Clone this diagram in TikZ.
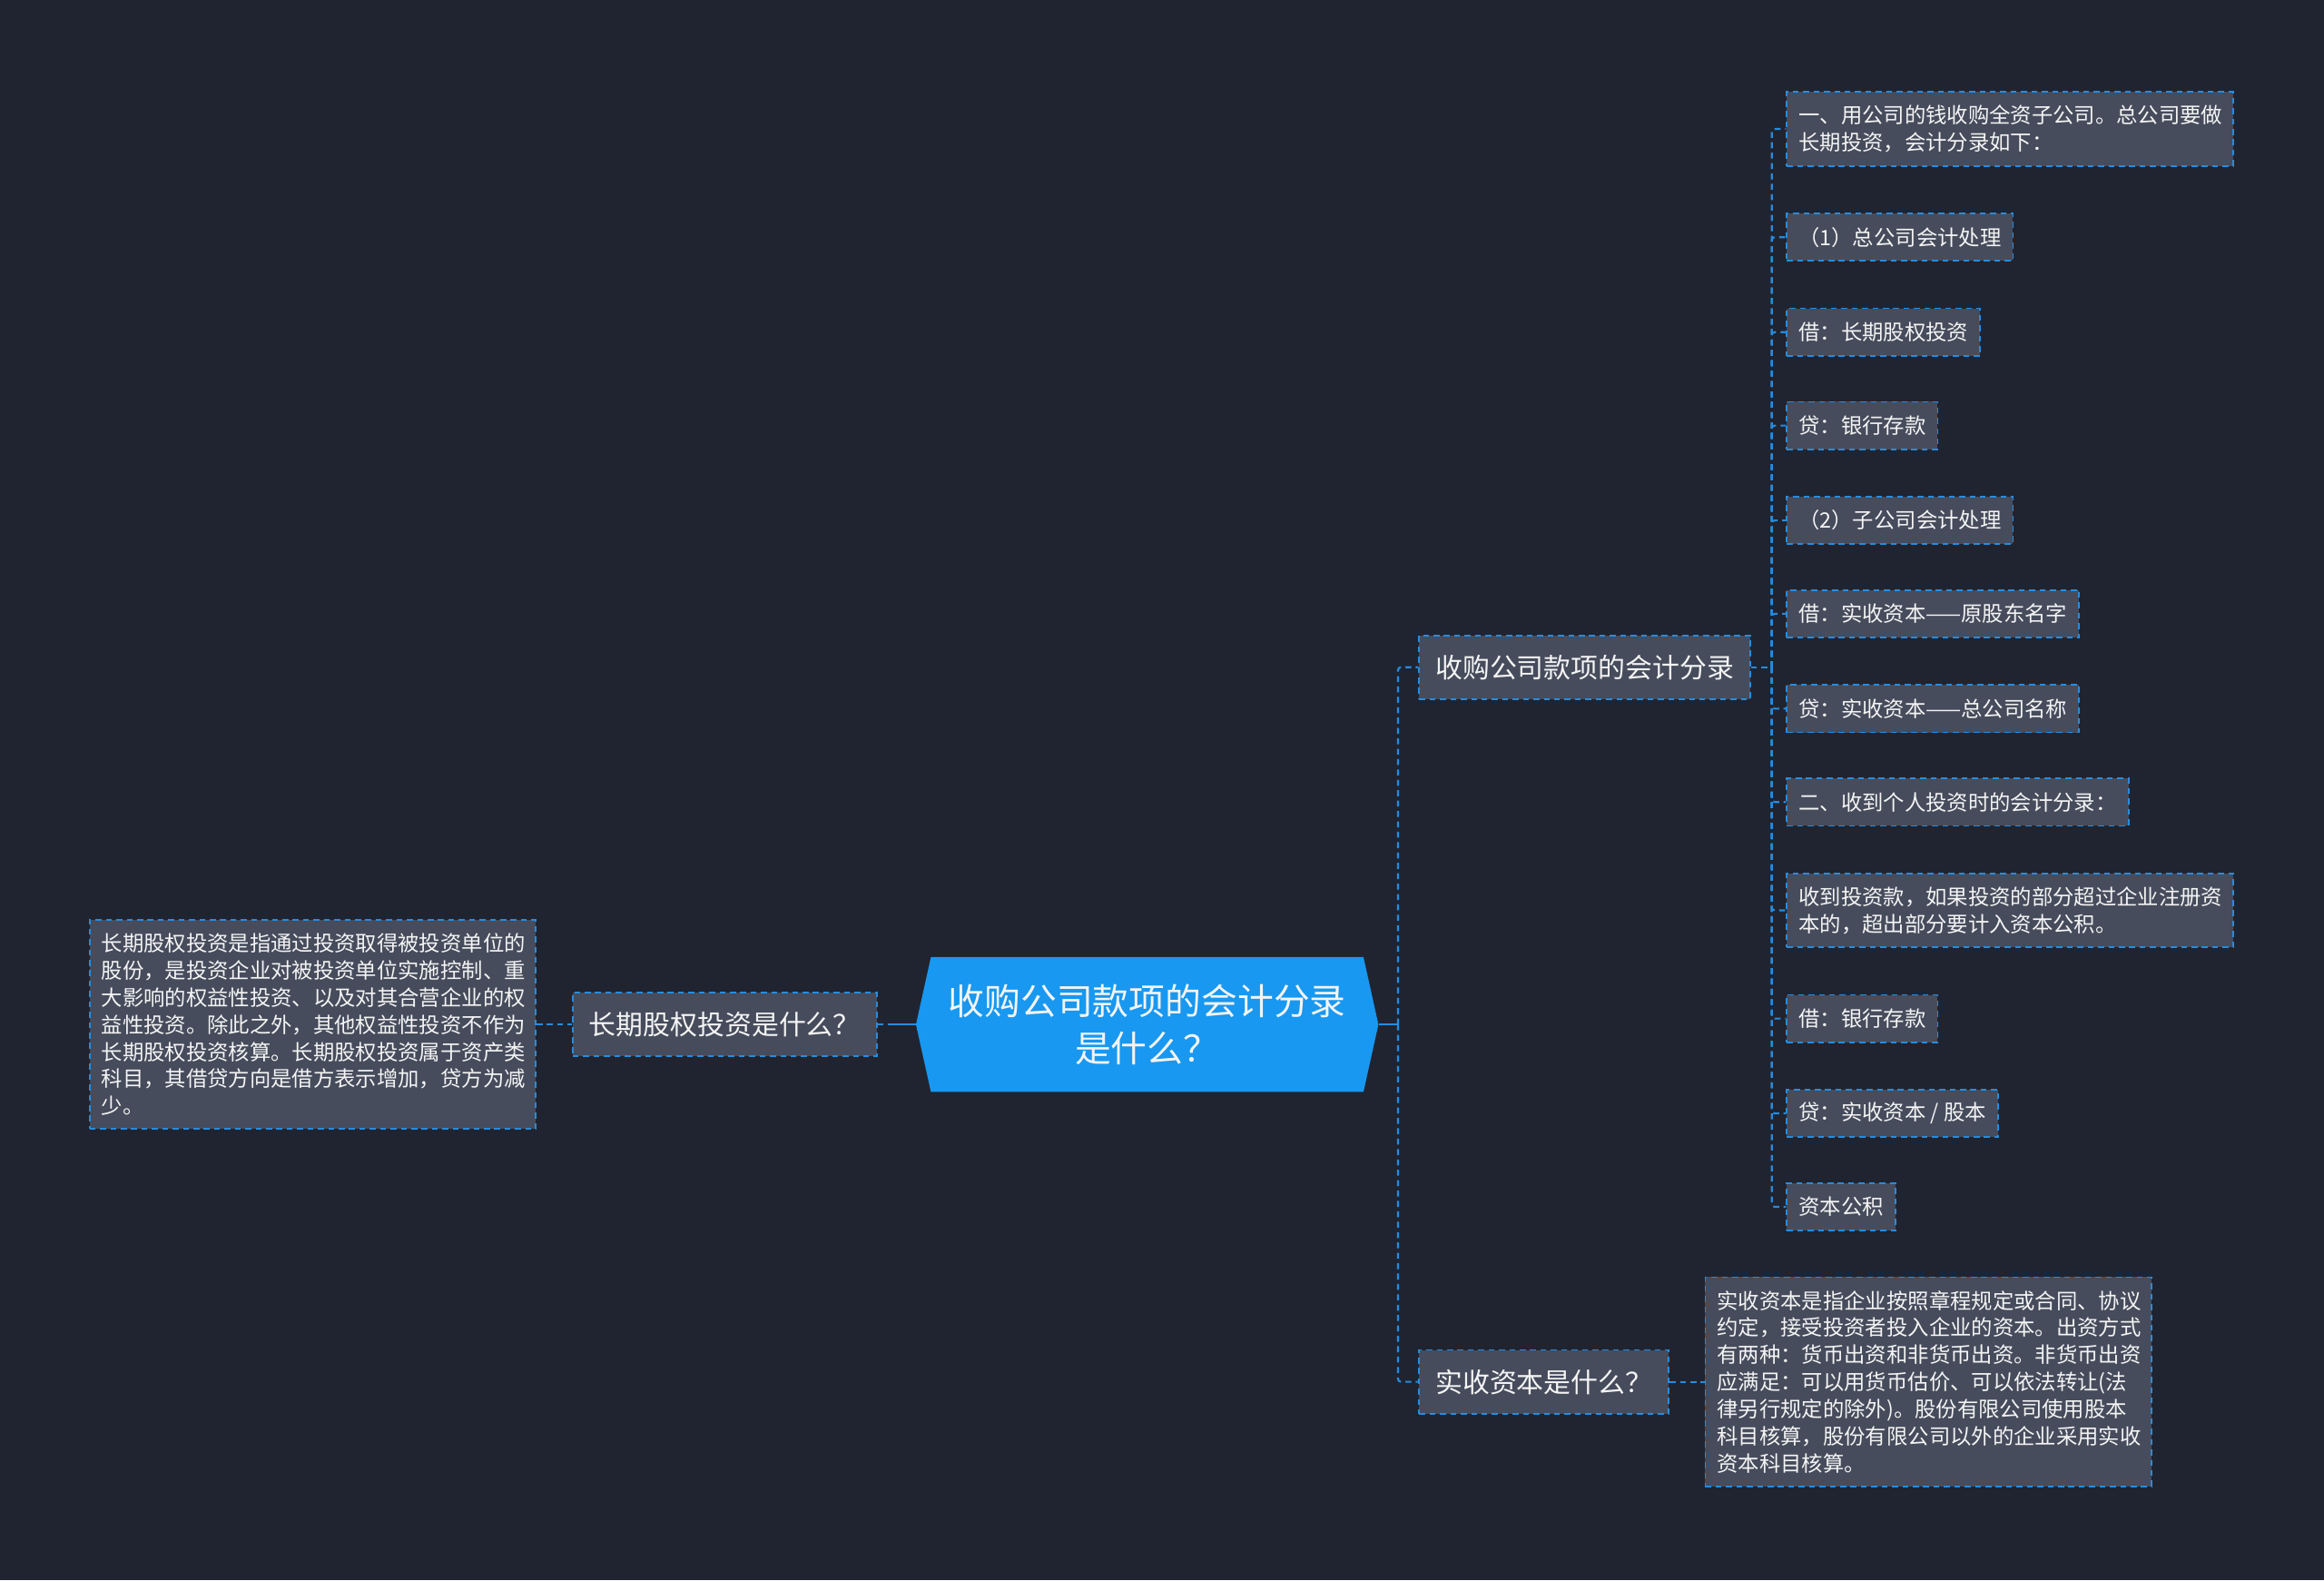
\documentclass[tikz,border=0pt]{standalone}
\usepackage{fontspec}
\setmainfont{Noto Sans CJK SC}
\usepackage{tikz}
\usetikzlibrary{shapes.symbols}

\definecolor{bgdark}{RGB}{32,36,48}
\definecolor{boxfill}{RGB}{70,76,92}
\definecolor{linkblue}{RGB}{38,140,222}
\definecolor{rootblue}{RGB}{24,152,240}
\definecolor{txtwhite}{RGB}{244,244,244}

\begin{document}
\begin{tikzpicture}[x=1pt, y=-1pt,
  every node/.style={text=txtwhite},
  root/.style={signal, signal to=west and east, signal pointer angle=155, fill=rootblue,
    align=center, font=\fontsize{24.4}{32}\selectfont, minimum width=312pt, minimum height=91pt, inner sep=0pt},
  branch/.style={draw=linkblue, fill=boxfill, line width=1.1pt, dash pattern=on 4pt off 3pt,
    font=\fontsize{18.3}{22}\selectfont, inner xsep=11pt, minimum height=43pt},
  leaf/.style={draw=linkblue, fill=boxfill, line width=1.1pt, dash pattern=on 4pt off 3pt,
    font=\fontsize{14.3}{18.3}\selectfont, inner xsep=8pt, minimum height=32pt},
  note/.style={leaf, text width=285pt, align=left, inner ysep=9pt},
  link/.style={draw=linkblue, line width=1.3pt, dash pattern=on 4pt off 3pt, rounded corners=2pt},
  rootlink/.style={draw=linkblue, line width=1.5pt}]
  % Background
  \useasboundingbox (0,0) rectangle (1568,1066);
  \fill[bgdark] (0,0) rectangle (1568,1066);

  % Central topic
  \node[root] (root) at (774,691) {收购公司款项的会计分录\\是什么？};

  % Left branch
  \node[branch, anchor=east] (q1) at (592,691) {长期股权投资是什么？};
  \node[note, anchor=east] (q1note) at (362,691) {长期股权投资是指通过投资取得被投资单位的\\股份，是投资企业对被投资单位实施控制、重\\大影响的权益性投资、以及对其合营企业的权\\益性投资。除此之外，其他权益性投资不作为\\长期股权投资核算。长期股权投资属于资产类\\科目，其借贷方向是借方表示增加，贷方为减\\少。};

  % Right branches
  \node[branch, anchor=west] (b1) at (957,450) {收购公司款项的会计分录};
  \node[branch, anchor=west] (b2) at (957,932) {实收资本是什么？};
  \node[note, anchor=west] (b2note) at (1150,932) {实收资本是指企业按照章程规定或合同、协议\\约定，接受投资者投入企业的资本。出资方式\\有两种：货币出资和非货币出资。非货币出资\\应满足：可以用货币估价、可以依法转让(法\\律另行规定的除外)。股份有限公司使用股本\\科目核算，股份有限公司以外的企业采用实收\\资本科目核算。};

  % Entries under b1
  \node[note, anchor=west] (c1) at (1205,87) {一、用公司的钱收购全资子公司。总公司要做\\长期投资，会计分录如下：};
  \node[leaf, anchor=west] (c2) at (1205,160) {（1）总公司会计处理};
  \node[leaf, anchor=west] (c3) at (1205,224) {借：长期股权投资};
  \node[leaf, anchor=west] (c4) at (1205,287) {贷：银行存款};
  \node[leaf, anchor=west] (c5) at (1205,351) {（2）子公司会计处理};
  \node[leaf, anchor=west] (c6) at (1205,414) {借：实收资本——原股东名字};
  \node[leaf, anchor=west] (c7) at (1205,478) {贷：实收资本——总公司名称};
  \node[leaf, anchor=west] (c8) at (1205,541) {二、收到个人投资时的会计分录：};
  \node[note, anchor=west] (c9) at (1205,614) {收到投资款，如果投资的部分超过企业注册资\\本的，超出部分要计入资本公积。};
  \node[leaf, anchor=west] (c10) at (1205,687) {借：银行存款};
  \node[leaf, anchor=west] (c11) at (1205,751) {贷：实收资本 / 股本};
  \node[leaf, anchor=west] (c12) at (1205,814) {资本公积};

  % Connectors
  \draw[link] (q1note.east) -- (q1.west);
  \draw[link] (q1.east) -- (root.west);
  \draw[rootlink] (root.west) -- ++(-17,0);
  \coordinate (rootR) at ([xshift=13pt]root.east);
  \draw[rootlink] (root.east) -- (rootR);
  \draw[link] (rootR) |- (b1.west);
  \draw[link] (rootR) |- (b2.west);
  \draw[link] (b2.east) -- (b2note.west);
  \coordinate (b1R) at ([xshift=14pt]b1.east);
  \draw[link] (b1.east) -- (b1R);
  \draw[link] (b1R) |- (c1.west);
  \draw[link] (b1R) |- (c2.west);
  \draw[link] (b1R) |- (c3.west);
  \draw[link] (b1R) |- (c4.west);
  \draw[link] (b1R) |- (c5.west);
  \draw[link] (b1R) |- (c6.west);
  \draw[link] (b1R) |- (c7.west);
  \draw[link] (b1R) |- (c8.west);
  \draw[link] (b1R) |- (c9.west);
  \draw[link] (b1R) |- (c10.west);
  \draw[link] (b1R) |- (c11.west);
  \draw[link] (b1R) |- (c12.west);
\end{tikzpicture}
\end{document}
